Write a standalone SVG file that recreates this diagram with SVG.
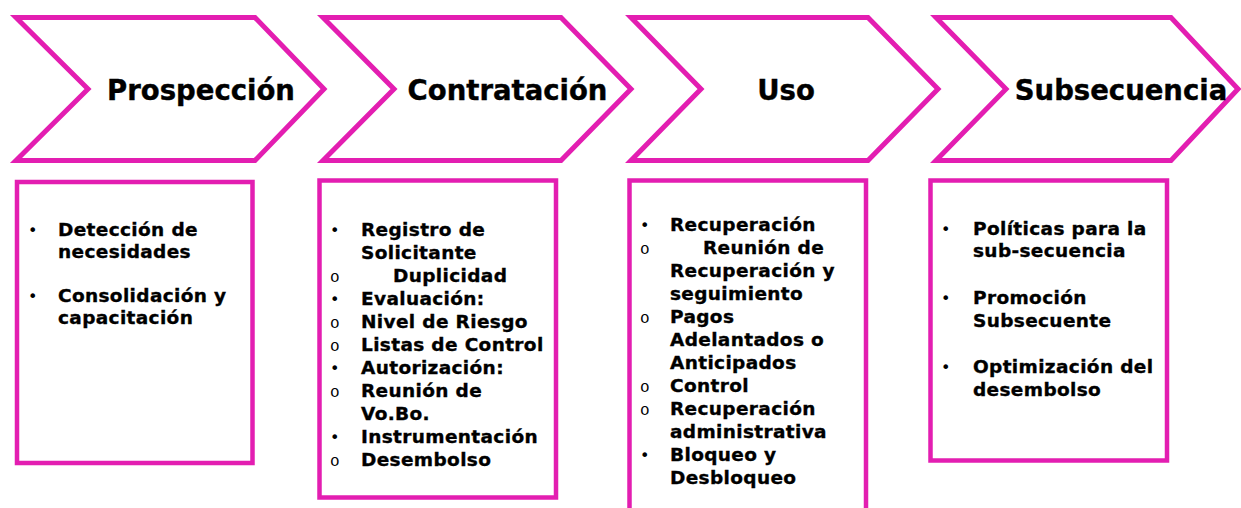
<svg xmlns="http://www.w3.org/2000/svg" width="1241" height="508" viewBox="0 0 1241 508">
<style>
.chev{fill:#fff;stroke:#E31EB1;stroke-width:5;stroke-linejoin:miter}
.box{fill:#fff;stroke:#E31EB1;stroke-width:4.5}
.t{font-family:"DejaVu Sans",Verdana,sans-serif;font-weight:bold;font-size:27.5px;fill:#000;stroke:#000;stroke-width:0.4;text-anchor:middle}
.b{font-family:"DejaVu Sans",Verdana,sans-serif;font-weight:bold;font-size:18.5px;letter-spacing:0.35px;fill:#000;stroke:#000;stroke-width:0.35}
.d{font-family:"DejaVu Sans",sans-serif;font-size:16px;fill:#000}
.o{font-family:"Liberation Mono","DejaVu Sans Mono",monospace;font-size:16px;fill:#000}
</style>
<rect width="1241" height="508" fill="#fff"/>
<g id="prospeccion">
<polygon class="chev" points="16,17.5 255,17.5 324,89 255,160.5 16,160.5 88,89"/>
<text class="t" x="201" y="100">Prospección</text>
</g>
<g id="contratacion">
<polygon class="chev" points="323,17.5 561,17.5 631,89 561,160.5 323,160.5 394,89"/>
<text class="t" x="507.5" y="100">Contratación</text>
</g>
<g id="uso">
<polygon class="chev" points="631,17.5 868,17.5 938,89 868,160.5 631,160.5 701,89"/>
<text class="t" x="786" y="100">Uso</text>
</g>
<g id="subsecuencia">
<polygon class="chev" points="936,17.5 1171,17.5 1238,89 1171,160.5 936,160.5 1006,89"/>
<text class="t" x="1121" y="100">Subsecuencia</text>
</g>
<g id="box-prospeccion">
<rect class="box" x="17" y="182" width="235.5" height="281"/>
<text class="d" x="28" y="236">•</text>
<text class="b" x="58" y="236">Detección de</text>
<text class="b" x="58" y="258">necesidades</text>
<text class="d" x="28" y="302">•</text>
<text class="b" x="58" y="302">Consolidación y</text>
<text class="b" x="58" y="324">capacitación</text>
</g>
<g id="box-contratacion">
<rect class="box" x="319.5" y="180.5" width="236.5" height="317"/>
<text class="d" x="330" y="236">•</text>
<text class="b" x="361" y="236">Registro de</text>
<text class="b" x="361" y="259">Solicitante</text>
<text class="o" x="330" y="282">o</text>
<text class="b" x="393" y="282">Duplicidad</text>
<text class="d" x="330" y="305">•</text>
<text class="b" x="361" y="305">Evaluación:</text>
<text class="o" x="330" y="328">o</text>
<text class="b" x="361" y="328">Nivel de Riesgo</text>
<text class="o" x="330" y="351">o</text>
<text class="b" x="361" y="351">Listas de Control</text>
<text class="d" x="330" y="374">•</text>
<text class="b" x="361" y="374">Autorización:</text>
<text class="o" x="330" y="397">o</text>
<text class="b" x="361" y="397">Reunión de</text>
<text class="b" x="361" y="420">Vo.Bo.</text>
<text class="d" x="330" y="443">•</text>
<text class="b" x="361" y="443">Instrumentación</text>
<text class="o" x="330" y="466">o</text>
<text class="b" x="361" y="466">Desembolso</text>
</g>
<g id="box-uso">
<rect class="box" x="629.5" y="180.5" width="236.5" height="340"/>
<text class="d" x="640" y="231">•</text>
<text class="b" x="670" y="231">Recuperación</text>
<text class="o" x="640" y="254">o</text>
<text class="b" x="703" y="254">Reunión de</text>
<text class="b" x="670" y="277">Recuperación y</text>
<text class="b" x="670" y="300">seguimiento</text>
<text class="o" x="640" y="323">o</text>
<text class="b" x="670" y="323">Pagos</text>
<text class="b" x="670" y="346">Adelantados o</text>
<text class="b" x="670" y="369">Anticipados</text>
<text class="o" x="640" y="392">o</text>
<text class="b" x="670" y="392">Control</text>
<text class="o" x="640" y="415">o</text>
<text class="b" x="670" y="415">Recuperación</text>
<text class="b" x="670" y="438">administrativa</text>
<text class="d" x="640" y="461">•</text>
<text class="b" x="670" y="461">Bloqueo y</text>
<text class="b" x="670" y="484">Desbloqueo</text>
</g>
<g id="box-subsecuencia">
<rect class="box" x="930.5" y="180.5" width="236.5" height="280"/>
<text class="d" x="941" y="235">•</text>
<text class="b" x="973" y="235">Políticas para la</text>
<text class="b" x="973" y="257">sub-secuencia</text>
<text class="d" x="941" y="304">•</text>
<text class="b" x="973" y="304">Promoción</text>
<text class="b" x="973" y="327">Subsecuente</text>
<text class="d" x="941" y="373">•</text>
<text class="b" x="973" y="373">Optimización del</text>
<text class="b" x="973" y="396">desembolso</text>
</g>
<g id="connectors"></g>
</svg>
